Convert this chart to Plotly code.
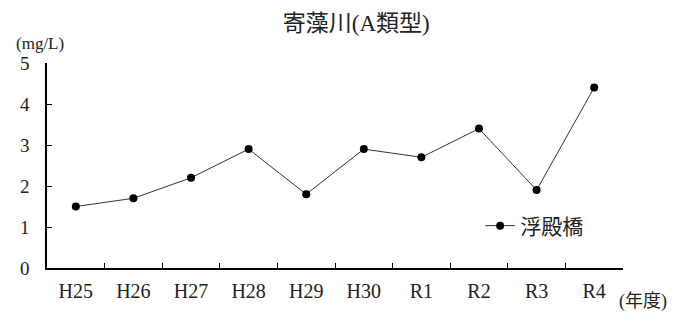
import plotly.graph_objects as go

categories = ["H25", "H26", "H27", "H28", "H29", "H30", "R1", "R2", "R3", "R4"]
values = [1.5, 1.7, 2.2, 2.9, 1.8, 2.9, 2.7, 3.4, 1.9, 4.4]
series_name = "浮殿橋"
title_text = "寄藻川(A類型)"
y_unit = "(mg/L)"
x_unit = "(年度)"

FONT = "Liberation Serif, Noto Sans CJK JP, serif"

fig = go.Figure()
fig.add_trace(go.Scatter(
    x=categories, y=values, name=series_name, mode="lines+markers",
    line=dict(color="#333333", width=1),
    marker=dict(color="black", size=8),
))

fig.update_layout(
    width=670, height=307,
    margin=dict(l=36, r=55, t=55, b=47),
    paper_bgcolor="white", plot_bgcolor="white",
    font=dict(family=FONT, size=18, color="#222222"),
    title=dict(text=title_text, x=0.537, xanchor="center", xref="paper", y=0.952, yanchor="middle",
               font=dict(size=23, family=FONT, color="#222222")),
    showlegend=True,
    legend=dict(x=0.752, y=0.205, xanchor="left", yanchor="middle",
                bgcolor="rgba(0,0,0,0)", font=dict(size=21, family=FONT)),
    xaxis=dict(type="category", showline=True, linecolor="black", linewidth=1.5,
               ticks="inside", ticklen=5, tickcolor="black", tickson="boundaries",
               showgrid=False, zeroline=False, range=[-0.5, 9.5],
               ticklabelstandoff=4, tickfont=dict(size=20)),
    yaxis=dict(range=[0, 5], dtick=1, showline=True, linecolor="black", linewidth=1.5,
               ticks="inside", ticklen=5, tickcolor="black", showgrid=False,
               zeroline=False, ticklabelstandoff=12, tickfont=dict(size=19)),
    annotations=[
        dict(text=y_unit, xref="paper", yref="paper", x=0, y=1.0, xanchor="left",
             yanchor="bottom", showarrow=False, xshift=-33, yshift=8, font=dict(size=17, family=FONT)),
        dict(text=x_unit, xref="paper", yref="paper", x=1.0, y=0, xanchor="left",
             yanchor="top", showarrow=False, xshift=-6, yshift=-21, font=dict(size=18, family=FONT)),
    ],
)

fig.write_html("out.html")
